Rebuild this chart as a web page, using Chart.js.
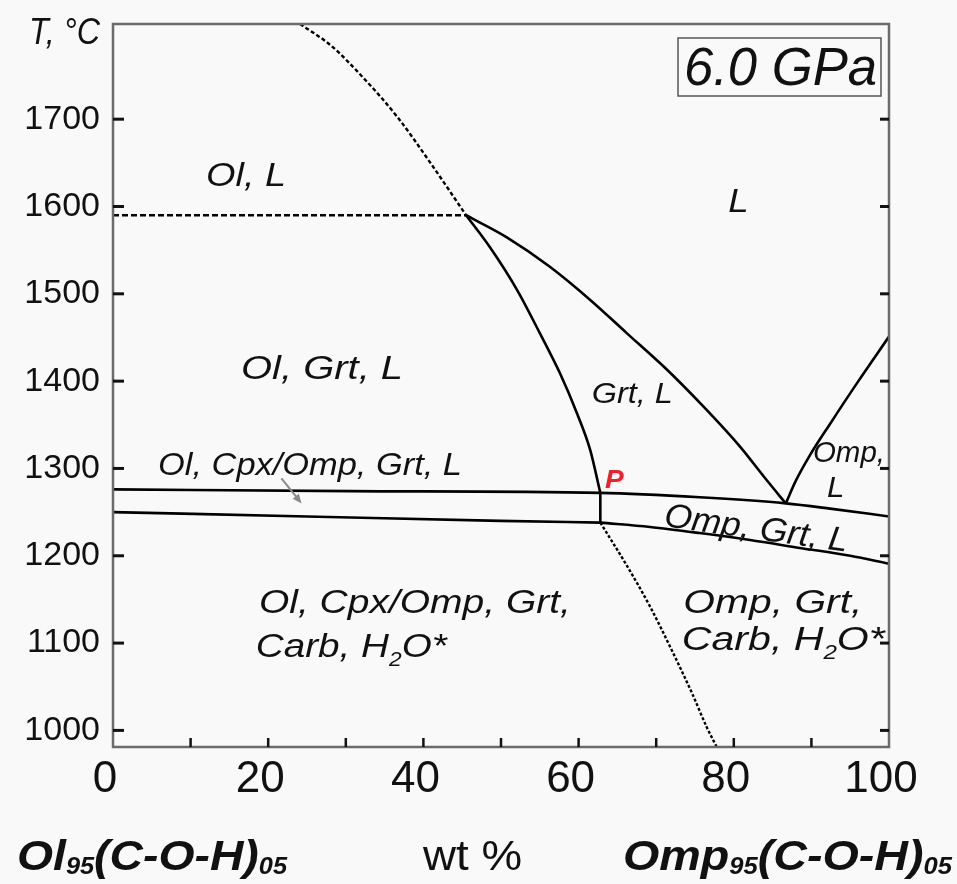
<!DOCTYPE html>
<html>
<head>
<meta charset="utf-8">
<script src="https://cdn.jsdelivr.net/npm/chart.js@4.4.0/dist/chart.umd.min.js"></script>
<style>
html, body { margin: 0; padding: 0; background: #f9f9f9; }
#wrap { position: relative; width: 957px; height: 884px; }
</style>
</head>
<body>
<div id="wrap"><canvas id="myChart"></canvas></div>
<script>
// T-X section at 6.0 GPa, x = wt %, y = T in C
const xTicks = [0, 10, 20, 30, 40, 50, 60, 70, 80, 90, 100];
const yTicks = [1000, 1100, 1200, 1300, 1400, 1500, 1600, 1700];

// Ol liquidus (dashed, above 1590)
const olLiqX = [24.1, 28.0, 32.3, 36.6, 40.9, 45.5];
const olLiqT = [1809, 1785, 1747, 1703, 1650, 1590];
// Ol + L / Ol + Grt + L boundary (dashed)
const olGrtX = [0, 45.5];
const olGrtT = [1590, 1590];
// Grt-in, left branch down to P
const grtLeftX = [45.5, 48.6, 52.1, 55.0, 57.6, 59.8, 61.5, 62.8];
const grtLeftT = [1590, 1553, 1504, 1455, 1409, 1363, 1321, 1272];
// Grt liquidus down to the eutectic
const grtLiqX = [45.5, 50.7, 56.3, 61.5, 66.2, 71.4, 76.5, 80.8, 84.2, 86.7];
const grtLiqT = [1590, 1565, 1531, 1493, 1455, 1413, 1367, 1325, 1287, 1260];
// Omp liquidus
const ompLiqX = [86.7, 88.0, 89.8, 92.4, 95.9, 100];
const ompLiqT = [1260, 1286, 1315, 1351, 1398, 1451];
// upper solidus
const solUpX = [0, 30.5, 62.8, 75.6, 86.7, 92.4, 100];
const solUpT = [1276, 1274, 1272, 1267, 1260, 1254, 1245];
// lower solidus, left and right of P
const solLowLX = [0, 25, 49.9, 62.8];
const solLowLT = [1250, 1245, 1240, 1238];
const solLowRX = [62.8, 69.2, 75.6, 82.1, 88.5, 95.0, 100];
const solLowRT = [1238, 1233, 1226, 1218, 1209, 1200, 1191];
// step at P
const pStepX = [62.8, 62.8];
const pStepT = [1272, 1238];
// Ol-out below P (dashed)
const olOutX = [62.8, 66.2, 69.2, 72.0, 74.6, 76.5, 77.8];
const olOutT = [1238, 1189, 1142, 1092, 1043, 1004, 981];
// little pointer to the thin Ol, Cpx/Omp, Grt, L field
const arrowX = [21.7, 24.3];
const arrowT = [1288.5, 1260];

const FONT = "'Liberation Sans', Arial, Helvetica, sans-serif";
Chart.defaults.font.family = FONT;
Chart.defaults.color = '#111';

function line(xs, ts, dash, smooth) {
    return {
        data: xs.map((x, i) => ({ x: x, y: ts[i] })),
        borderColor: '#000',
        borderWidth: dash ? 2.4 : 2.6,
        borderDash: dash || [],
        pointRadius: 0,
        fill: false,
        tension: 0,
        cubicInterpolationMode: smooth ? 'monotone' : 'default'
    };
}

// field names, placed in data units (left end of baseline)
const fieldLabels = [
    { runs: [['Ol, L']], x: 12.0, t: 1623, size: 34, w: 80 },
    { runs: [['L']], x: 79.3, t: 1594, size: 34 },
    { runs: [['Ol, Grt, L']], x: 16.5, t: 1402, size: 34, w: 162 },
    { runs: [['Grt, L']], x: 61.7, t: 1375, size: 30, w: 81 },
    { runs: [['Omp,']], x: 90.2, t: 1307, size: 29, w: 72 },
    { runs: [['L']], x: 92.0, t: 1267, size: 29 },
    { runs: [['Ol, Cpx/Omp, Grt, L']], x: 5.8, t: 1292, size: 31, w: 304 },
    { runs: [['P']], x: 63.4, t: 1278, size: 26, bold: true, color: '#f0202a' },
    { runs: [['Omp, Grt, L']], x: 70.9, t: 1234, size: 34, w: 185, rot: 8 },
    { runs: [['Ol, Cpx/Omp, Grt,']], x: 18.8, t: 1134, size: 34, w: 312 },
    { runs: [['Carb, H'], ['2', 1], ['O*']], x: 18.4, t: 1084, size: 34, w: 191 },
    { runs: [['Omp, Grt,']], x: 73.5, t: 1135, size: 34, w: 179 },
    { runs: [['Carb, H'], ['2', 1], ['O*']], x: 73.3, t: 1092, size: 34, w: 203 }
];

function drawRuns(ctx, runs, x, y, o) {
    const style = (o.italic === false ? '' : 'italic ') + (o.bold ? 'bold ' : '');
    const subScale = o.subScale || 0.6;
    const subDrop = o.subDrop || 0.26;
    const mainFont = style + o.size + 'px ' + FONT;
    const subFont = style + Math.round(o.size * subScale) + 'px ' + FONT;
    let w = 0;
    runs.forEach(r => { ctx.font = r[1] ? subFont : mainFont; w += ctx.measureText(r[0]).width; });
    const sx = o.w ? o.w / w : 1.08;
    ctx.save();
    ctx.translate(x, y);
    if (o.rot) ctx.rotate(o.rot * Math.PI / 180);
    ctx.scale(sx, 1);
    ctx.fillStyle = o.color || '#111';
    ctx.textAlign = 'left';
    ctx.textBaseline = 'alphabetic';
    let cx = 0;
    runs.forEach(r => {
        ctx.font = r[1] ? subFont : mainFont;
        ctx.fillText(r[0], cx, r[1] ? o.size * subDrop : 0);
        cx += ctx.measureText(r[0]).width;
    });
    ctx.restore();
}

const decor = {
    id: 'decor',
    afterDatasetsDraw(chart) {
        const ctx = chart.ctx;
        const a = chart.chartArea;
        const xs = chart.scales.x, ys = chart.scales.y;

        // arrow
        const x0 = xs.getPixelForValue(arrowX[0]), y0 = ys.getPixelForValue(arrowT[0]);
        const x1 = xs.getPixelForValue(arrowX[1]), y1 = ys.getPixelForValue(arrowT[1]);
        const ang = Math.atan2(y1 - y0, x1 - x0);
        ctx.save();
        ctx.strokeStyle = '#8a8a8a';
        ctx.fillStyle = '#8a8a8a';
        ctx.lineWidth = 2;
        ctx.beginPath(); ctx.moveTo(x0, y0);
        ctx.lineTo(x1 - 6 * Math.cos(ang), y1 - 6 * Math.sin(ang)); ctx.stroke();
        ctx.beginPath();
        ctx.moveTo(x1, y1);
        ctx.lineTo(x1 - 10 * Math.cos(ang - 0.4), y1 - 10 * Math.sin(ang - 0.4));
        ctx.lineTo(x1 - 10 * Math.cos(ang + 0.4), y1 - 10 * Math.sin(ang + 0.4));
        ctx.closePath(); ctx.fill();
        ctx.restore();

        // frame
        ctx.save();
        ctx.strokeStyle = '#6b6b6b';
        ctx.lineWidth = 2.5;
        ctx.strokeRect(a.left, a.top, a.right - a.left, a.bottom - a.top);

        // inward ticks
        ctx.strokeStyle = '#111';
        ctx.lineWidth = 3;
        yTicks.forEach(v => {
            const py = ys.getPixelForValue(v);
            ctx.beginPath(); ctx.moveTo(a.left, py); ctx.lineTo(a.left + 11, py); ctx.stroke();
            ctx.beginPath(); ctx.moveTo(a.right, py); ctx.lineTo(a.right - 9, py); ctx.stroke();
        });
        ctx.lineWidth = 2.5;
        xTicks.slice(1, -1).forEach(v => {
            const px = xs.getPixelForValue(v);
            ctx.beginPath(); ctx.moveTo(px, a.bottom); ctx.lineTo(px, a.bottom - 9); ctx.stroke();
        });
        ctx.restore();

        // field names
        fieldLabels.forEach(l => {
            drawRuns(ctx, l.runs, xs.getPixelForValue(l.x), ys.getPixelForValue(l.t), l);
        });

        // pressure box
        ctx.save();
        ctx.strokeStyle = '#555';
        ctx.lineWidth = 1.5;
        ctx.strokeRect(a.right - 211, a.top + 14, 203, 58);
        ctx.restore();
        drawRuns(ctx, [['6.0 GPa']], a.right - 205, a.top + 61, { size: 53, w: 193 });

        // axis captions
        drawRuns(ctx, [['T, °C']], 29, 44, { size: 36, w: 71 });
        drawRuns(ctx, [['Ol'], ['95', 1], ['(C-O-H)'], ['05', 1]], 17, 870,
            { size: 42, bold: true, w: 270, subScale: 0.55, subDrop: 0.1 });
        drawRuns(ctx, [['wt %']], 423, 870, { size: 42, italic: false, w: 99 });
        drawRuns(ctx, [['Omp'], ['95', 1], ['(C-O-H)'], ['05', 1]], 623, 870,
            { size: 42, bold: true, w: 329, subScale: 0.55, subDrop: 0.1 });
    }
};

const ctx = document.getElementById('myChart');
new Chart(ctx, {
    type: 'line',
    data: {
        datasets: [
            line(olLiqX, olLiqT, [4, 2.5], true),
            line(olGrtX, olGrtT, [6, 3], false),
            line(grtLeftX, grtLeftT, null, true),
            line(grtLiqX, grtLiqT, null, true),
            line(ompLiqX, ompLiqT, null, true),
            line(solUpX, solUpT, null, true),
            line(solLowLX, solLowLT, null, true),
            line(solLowRX, solLowRT, null, true),
            line(pStepX, pStepT, null, false),
            line(olOutX, olOutT, [3, 2], true)
        ]
    },
    options: {
        responsive: true,
        maintainAspectRatio: false,
        animation: false,
        events: [],
        layout: { padding: { left: 0, right: 68, top: 24, bottom: 0 } },
        plugins: { legend: { display: false }, tooltip: { enabled: false } },
        scales: {
            x: {
                type: 'linear',
                min: 0,
                max: 100,
                afterBuildTicks: s => { s.ticks = xTicks.map(v => ({ value: v })); },
                afterFit: s => { s.height = 137; s.paddingLeft = 0; s.paddingRight = 0; },
                grid: { display: false, drawTicks: false },
                border: { display: false },
                ticks: {
                    autoSkip: false,
                    maxRotation: 0,
                    padding: 6,
                    labelOffset: -8,
                    font: { size: 44 },
                    color: '#111',
                    callback: v => (v % 20 === 0 ? String(v) : '')
                }
            },
            y: {
                type: 'linear',
                min: 981,
                max: 1809,
                afterBuildTicks: s => { s.ticks = yTicks.map(v => ({ value: v })); },
                afterFit: s => { s.width = 113; s.paddingTop = 0; s.paddingBottom = 0; },
                grid: { display: false, drawTicks: false },
                border: { display: false },
                ticks: {
                    autoSkip: false,
                    padding: 13,
                    font: { size: 34 },
                    color: '#111',
                    callback: v => String(v)
                }
            }
        }
    },
    plugins: [decor]
});
</script>
</body>
</html>
